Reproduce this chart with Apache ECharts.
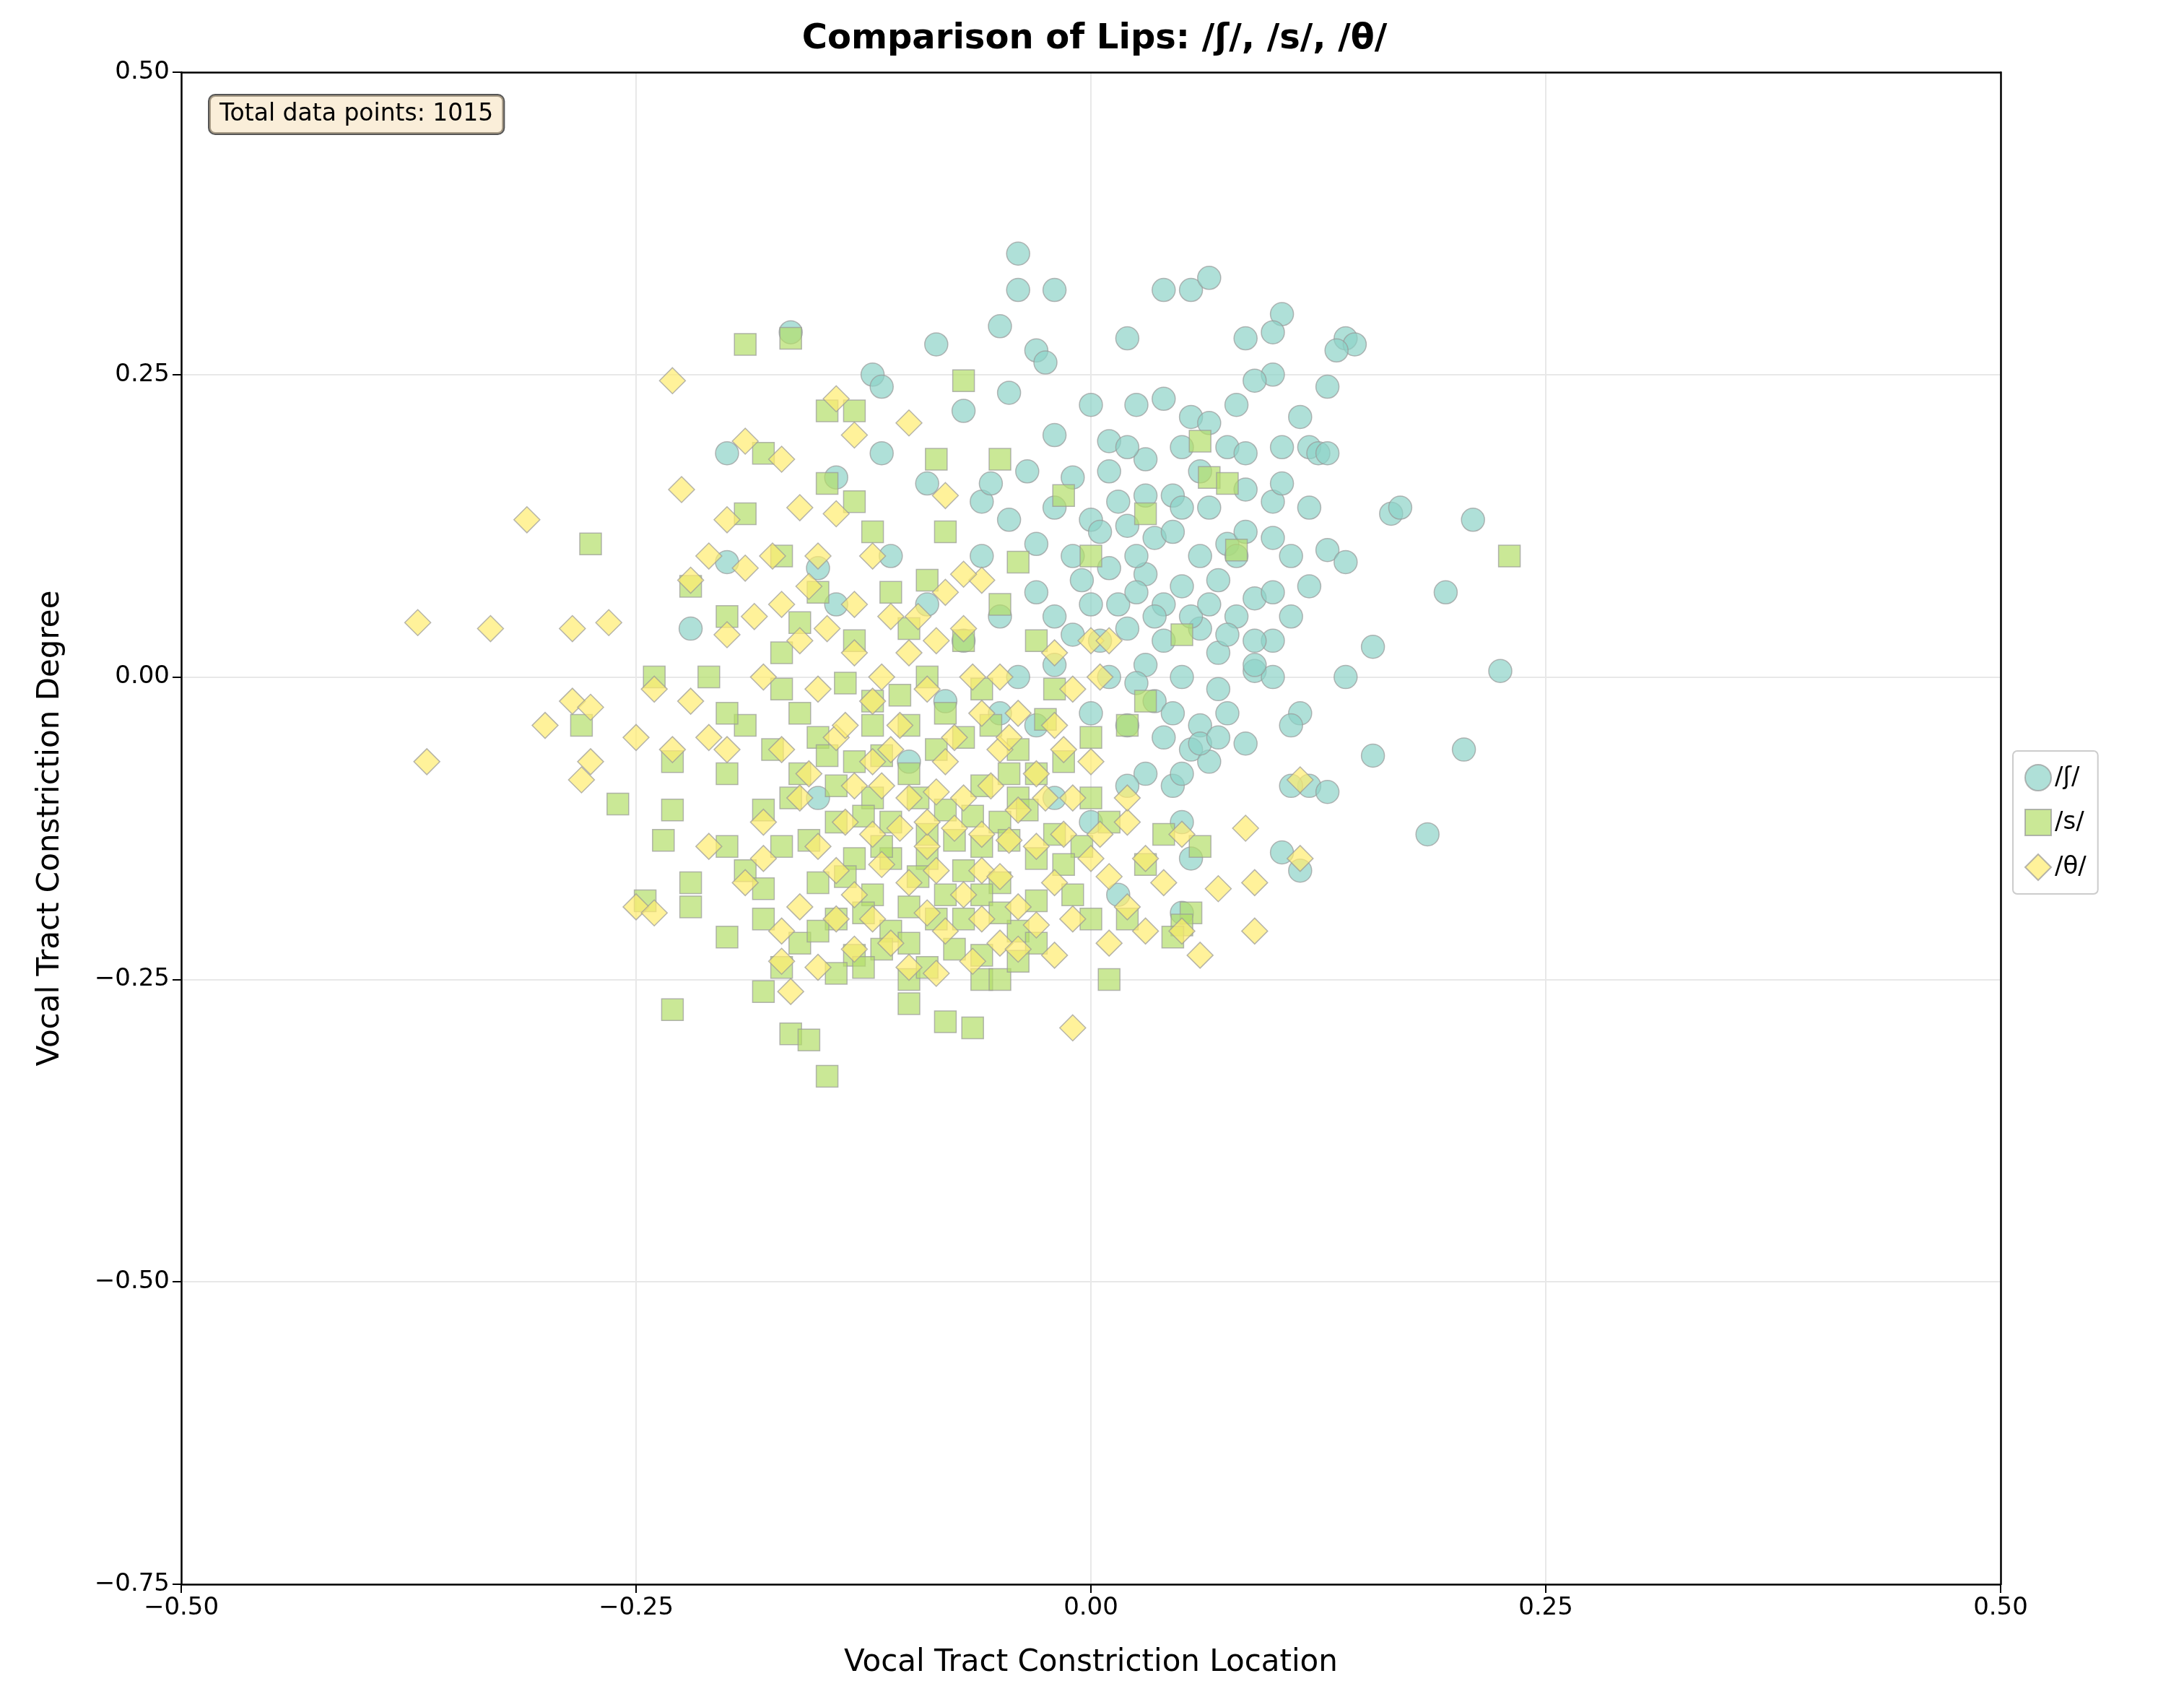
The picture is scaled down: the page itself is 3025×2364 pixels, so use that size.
<!DOCTYPE html>
<html>
<head>
<meta charset="utf-8">
<script src="https://cdn.jsdelivr.net/npm/echarts@6/dist/echarts.min.js"></script>
<style>html,body{margin:0;padding:0;background:#fff}#chart{width:3025px;height:2364px}</style>
</head>
<body>
<div id="chart"></div>
<script>
// estimated values: [location, degree]
const shData = [[-0.04,0.35],[-0.03,0.27],[-0.02,0.32],[-0.04,0.32],[0.04,0.32],[0.055,0.32],[0.065,0.33],[0.105,0.3],[0.14,0.28],[0.145,0.275],[0.1,0.285],[0.085,0.28],[-0.165,0.285],[-0.085,0.275],[-0.05,0.29],[0.02,0.28],[-0.12,0.25],[-0.115,0.24],[-0.045,0.235],[-0.025,0.26],[0.1,0.25],[0.09,0.245],[0.13,0.24],[0.135,0.27],[-0.07,0.22],[0.0,0.225],[0.025,0.225],[0.04,0.23],[0.08,0.225],[0.055,0.215],[0.065,0.21],[0.115,0.215],[-0.2,0.185],[-0.115,0.185],[-0.02,0.2],[0.01,0.195],[0.03,0.18],[0.05,0.19],[0.075,0.19],[0.085,0.185],[0.105,0.19],[0.12,0.19],[0.125,0.185],[0.13,0.185],[-0.14,0.165],[-0.09,0.16],[-0.035,0.17],[-0.01,0.165],[0.01,0.17],[0.045,0.15],[0.065,0.14],[0.085,0.155],[0.1,0.145],[0.105,0.16],[0.12,0.14],[0.165,0.135],[0.17,0.14],[-0.06,0.145],[-0.02,0.14],[0.0,0.13],[0.02,0.125],[0.035,0.115],[0.075,0.11],[0.08,0.1],[0.1,0.115],[0.11,0.1],[0.13,0.105],[0.14,0.095],[0.21,0.13],[-0.2,0.095],[-0.15,0.09],[-0.11,0.1],[-0.06,0.1],[-0.03,0.11],[-0.01,0.1],[0.01,0.09],[0.03,0.085],[0.05,0.075],[0.07,0.08],[0.09,0.065],[0.1,0.07],[0.12,0.075],[0.195,0.07],[-0.22,0.04],[-0.14,0.06],[-0.09,0.06],[-0.05,0.05],[-0.02,0.05],[0.0,0.06],[0.02,0.04],[0.04,0.03],[0.06,0.04],[0.08,0.05],[0.1,0.03],[0.11,0.05],[0.155,0.025],[0.14,0.0],[0.225,0.005],[-0.04,0.0],[-0.02,0.01],[0.01,0.0],[0.03,0.01],[0.05,0.0],[0.07,-0.01],[0.09,0.005],[0.1,0.0],[0.115,-0.03],[-0.08,-0.02],[-0.05,-0.03],[0.0,-0.03],[0.02,-0.04],[0.04,-0.05],[0.06,-0.04],[0.075,-0.03],[0.085,-0.055],[0.11,-0.04],[0.055,-0.06],[0.065,-0.07],[0.03,-0.08],[0.045,-0.09],[0.05,-0.12],[0.155,-0.065],[0.205,-0.06],[0.12,-0.09],[0.13,-0.095],[0.11,-0.09],[0.185,-0.13],[0.105,-0.145],[0.115,-0.16],[-0.02,-0.1],[0.0,-0.12],[0.02,-0.09],[0.055,-0.15],[-0.1,-0.07],[-0.15,-0.1],[0.015,-0.18],[0.05,-0.195],[-0.03,0.07],[0.015,0.06],[0.06,0.1],[-0.07,0.03],[0.035,-0.02],[0.07,0.02],[0.015,0.145],[0.03,0.15],[0.045,0.12],[0.005,0.12],[-0.005,0.08],[0.025,0.1],[0.04,0.06],[0.055,0.05],[0.065,0.06],[0.075,0.035],[0.045,-0.03],[0.06,-0.055],[0.07,-0.05],[0.085,0.12],[0.09,0.01],[0.005,0.03],[-0.01,0.035],[0.025,-0.005],[0.05,0.14],[0.035,0.05],[-0.045,0.13],[-0.055,0.16],[0.02,0.19],[0.09,0.03],[0.05,-0.08],[-0.03,-0.04],[0.025,0.07],[0.06,0.17]];
const sData = [[-0.19,0.275],[-0.165,0.28],[-0.07,0.245],[-0.145,0.22],[-0.13,0.22],[-0.18,0.185],[-0.085,0.18],[-0.05,0.18],[0.06,0.195],[-0.145,0.16],[0.065,0.165],[0.075,0.16],[-0.015,0.15],[0.03,0.135],[-0.19,0.135],[-0.12,0.12],[-0.08,0.12],[-0.275,0.11],[0.08,0.105],[0.23,0.1],[0.0,0.1],[-0.04,0.095],[-0.22,0.075],[-0.15,0.07],[-0.09,0.08],[-0.11,0.07],[-0.2,0.05],[-0.17,0.02],[-0.13,0.03],[-0.07,0.03],[0.05,0.035],[-0.24,0.0],[-0.21,0.0],[-0.17,-0.01],[-0.12,-0.02],[-0.09,0.0],[-0.06,-0.01],[-0.02,-0.01],[0.03,-0.02],[-0.28,-0.04],[-0.19,-0.04],[-0.15,-0.05],[-0.1,-0.04],[-0.07,-0.05],[-0.04,-0.06],[0.0,-0.05],[0.02,-0.04],[-0.23,-0.07],[-0.2,-0.08],[-0.16,-0.08],[-0.13,-0.07],[-0.1,-0.08],[-0.06,-0.09],[-0.03,-0.08],[0.0,-0.1],[-0.26,-0.105],[-0.23,-0.11],[-0.18,-0.11],[-0.14,-0.12],[-0.11,-0.12],[-0.08,-0.11],[-0.05,-0.12],[-0.02,-0.13],[0.01,-0.12],[0.04,-0.13],[-0.235,-0.135],[-0.2,-0.14],[-0.17,-0.14],[-0.13,-0.15],[-0.09,-0.15],[-0.06,-0.14],[-0.03,-0.15],[0.03,-0.155],[0.06,-0.14],[-0.22,-0.17],[-0.19,-0.16],[-0.15,-0.17],[-0.12,-0.18],[-0.08,-0.18],[-0.05,-0.17],[-0.01,-0.18],[0.02,-0.2],[-0.245,-0.185],[-0.22,-0.19],[-0.18,-0.2],[-0.14,-0.2],[-0.11,-0.21],[-0.07,-0.2],[-0.04,-0.21],[0.0,-0.2],[0.055,-0.195],[0.05,-0.205],[-0.2,-0.215],[-0.16,-0.22],[-0.13,-0.23],[-0.1,-0.22],[-0.06,-0.23],[-0.03,-0.22],[0.045,-0.215],[-0.17,-0.24],[-0.14,-0.245],[-0.1,-0.25],[-0.06,-0.25],[-0.05,-0.25],[0.01,-0.25],[-0.23,-0.275],[-0.18,-0.26],[-0.1,-0.27],[-0.08,-0.285],[-0.065,-0.29],[-0.165,-0.295],[-0.155,-0.3],[-0.145,-0.33],[-0.12,-0.1],[-0.09,-0.13],[-0.07,-0.16],[-0.11,-0.15],[-0.04,-0.1],[-0.14,-0.09],[-0.1,-0.19],[-0.12,-0.04],[-0.16,-0.03],[-0.135,-0.005],[-0.105,-0.015],[-0.08,-0.03],[-0.055,-0.04],[-0.025,-0.035],[-0.175,-0.06],[-0.145,-0.065],[-0.115,-0.065],[-0.085,-0.06],[-0.045,-0.08],[-0.015,-0.07],[-0.165,-0.1],[-0.125,-0.115],[-0.095,-0.1],[-0.065,-0.115],[-0.035,-0.11],[-0.005,-0.14],[-0.155,-0.135],[-0.115,-0.14],[-0.075,-0.135],[-0.045,-0.135],[-0.015,-0.155],[-0.135,-0.165],[-0.095,-0.165],[-0.06,-0.18],[-0.03,-0.185],[-0.125,-0.195],[-0.085,-0.2],[-0.05,-0.195],[-0.15,-0.21],[-0.115,-0.225],[-0.075,-0.225],[-0.04,-0.235],[-0.125,-0.24],[-0.09,-0.24],[-0.17,0.1],[-0.13,0.145],[-0.16,0.045],[-0.1,0.04],[-0.05,0.06],[-0.03,0.03],[-0.2,-0.03],[-0.18,-0.175]];
const thData = [[-0.23,0.245],[-0.14,0.23],[-0.1,0.21],[-0.19,0.195],[-0.17,0.18],[-0.13,0.2],[-0.225,0.155],[-0.08,0.15],[-0.31,0.13],[-0.2,0.13],[-0.16,0.14],[-0.12,0.1],[-0.15,0.1],[-0.19,0.09],[-0.22,0.08],[-0.17,0.06],[-0.11,0.05],[-0.08,0.07],[-0.06,0.08],[-0.37,0.045],[-0.33,0.04],[-0.285,0.04],[-0.265,0.045],[-0.2,0.035],[-0.16,0.03],[-0.13,0.02],[-0.1,0.02],[-0.07,0.04],[-0.05,0.0],[0.0,0.03],[0.01,0.03],[-0.24,-0.01],[-0.18,0.0],[-0.15,-0.01],[-0.12,-0.02],[-0.09,-0.01],[-0.06,-0.03],[-0.02,-0.04],[-0.01,-0.01],[-0.285,-0.02],[-0.275,-0.025],[-0.22,-0.02],[-0.3,-0.04],[-0.25,-0.05],[-0.21,-0.05],[-0.17,-0.06],[-0.14,-0.05],[-0.11,-0.06],[-0.08,-0.07],[-0.05,-0.06],[-0.03,-0.08],[0.0,-0.07],[-0.365,-0.07],[-0.275,-0.07],[-0.28,-0.085],[-0.23,-0.06],[-0.2,-0.06],[-0.16,-0.1],[-0.13,-0.09],[-0.1,-0.1],[-0.07,-0.1],[-0.04,-0.11],[-0.01,-0.1],[0.02,-0.12],[0.05,-0.13],[0.115,-0.085],[-0.21,-0.14],[-0.18,-0.15],[-0.15,-0.14],[-0.12,-0.13],[-0.09,-0.14],[-0.06,-0.13],[-0.03,-0.14],[0.0,-0.15],[0.03,-0.15],[0.04,-0.17],[0.085,-0.125],[0.115,-0.15],[-0.19,-0.17],[-0.16,-0.19],[-0.13,-0.18],[-0.1,-0.17],[-0.07,-0.18],[-0.04,-0.19],[-0.01,-0.2],[0.02,-0.19],[0.05,-0.21],[0.07,-0.175],[0.09,-0.17],[-0.25,-0.19],[-0.24,-0.195],[-0.17,-0.21],[-0.14,-0.2],[-0.11,-0.22],[-0.08,-0.21],[-0.05,-0.22],[-0.02,-0.23],[0.01,-0.22],[0.06,-0.23],[0.09,-0.21],[-0.17,-0.235],[-0.165,-0.26],[-0.15,-0.24],[-0.1,-0.24],[-0.085,-0.245],[-0.01,-0.29],[-0.12,-0.07],[-0.09,-0.12],[-0.14,-0.16],[-0.06,-0.16],[-0.13,0.06],[-0.04,-0.03],[-0.18,-0.12],[-0.145,0.04],[-0.115,0.0],[-0.085,0.03],[-0.065,0.0],[-0.135,-0.04],[-0.105,-0.04],[-0.075,-0.05],[-0.045,-0.05],[-0.015,-0.06],[-0.155,-0.08],[-0.115,-0.09],[-0.085,-0.095],[-0.055,-0.09],[-0.025,-0.1],[-0.135,-0.12],[-0.105,-0.125],[-0.075,-0.125],[-0.045,-0.135],[-0.015,-0.13],[-0.115,-0.155],[-0.085,-0.16],[-0.05,-0.165],[-0.02,-0.17],[0.01,-0.165],[-0.12,-0.2],[-0.09,-0.195],[-0.06,-0.2],[-0.03,-0.205],[-0.13,-0.225],[-0.065,-0.235],[-0.04,-0.225],[0.03,-0.21],[0.005,-0.13],[0.02,-0.1],[-0.175,0.1],[-0.155,0.075],[-0.185,0.05],[-0.21,0.1],[-0.14,0.135],[-0.095,0.05],[-0.07,0.085],[0.005,0.0],[-0.02,0.02]];
const seriesNames = ['/ʃ/', '/s/', '/θ/'];
const seriesColors = ['#8dd3c7', '#b3de69', '#ffed6f'];
const seriesSymbols = ['circle', 'rect', 'diamond'];
const seriesSizes = [32, 30, 36];
const totalPoints = 1015;

const fmt = v => (v < 0 ? '\u2212' : '') + Math.abs(v).toFixed(2);
const chart = echarts.init(document.getElementById('chart'));
const font = 'DejaVu Sans';
const frameAxis = { show: true, axisLine: { show: true, onZero: false, lineStyle: { color: '#000', width: 2.5 } }, axisTick: { show: false }, axisLabel: { show: false }, splitLine: { show: false } };

chart.setOption({
  animation: false,
  textStyle: { fontFamily: font },
  title: {
    text: 'Comparison of Lips: /ʃ/, /s/, /θ/',
    left: 1511, top: 26, textAlign: 'center',
    textStyle: { fontSize: 48, fontWeight: 'bold', color: '#000', fontFamily: font }
  },
  legend: {
    orient: 'vertical', left: 2788, top: 1040,
    itemWidth: 36, itemHeight: 36, itemGap: 24,
    padding: [18, 16], borderColor: '#ccc', borderWidth: 2, borderRadius: 6,
    textStyle: { fontSize: 34, color: '#000' },
    data: seriesNames.map((n, i) => ({ name: n, icon: seriesSymbols[i] }))
  },
  grid: { left: 251, right: 254, top: 100, bottom: 170 },
  xAxis: [{
    type: 'value', min: -0.5, max: 0.5, interval: 0.25,
    name: 'Vocal Tract Constriction Location', nameLocation: 'middle', nameGap: 88,
    nameTextStyle: { fontSize: 42, color: '#000' },
    axisLine: { show: true, onZero: false, lineStyle: { color: '#000', width: 2.5 } },
    axisTick: { show: true, length: 12, lineStyle: { color: '#000', width: 2 } },
    axisLabel: { fontSize: 34, color: '#000', margin: 16, formatter: fmt },
    splitLine: { lineStyle: { color: '#e8e8e8', width: 2 } }
  }, Object.assign({ type: 'value', position: 'top', min: -0.5, max: 0.5 }, frameAxis)],
  yAxis: [{
    type: 'value', min: -0.75, max: 0.5, interval: 0.25,
    name: 'Vocal Tract Constriction Degree', nameLocation: 'middle', nameGap: 160,
    nameTextStyle: { fontSize: 42, color: '#000' },
    axisLine: { show: true, onZero: false, lineStyle: { color: '#000', width: 2.5 } },
    axisTick: { show: true, length: 12, lineStyle: { color: '#000', width: 2 } },
    axisLabel: { fontSize: 34, color: '#000', margin: 16, formatter: fmt },
    splitLine: { lineStyle: { color: '#e8e8e8', width: 2 } }
  }, Object.assign({ type: 'value', position: 'right', min: -0.75, max: 0.5 }, frameAxis)],
  graphic: [{
    type: 'text', left: 288, top: 130,
    style: {
      text: 'Total data points: ' + totalPoints,
      font: '33px "DejaVu Sans"', fill: '#000',
      backgroundColor: 'rgba(245,222,179,0.5)', borderColor: '#555', borderWidth: 2,
      borderRadius: 8, padding: [10, 14]
    }
  }],
  series: [shData, sData, thData].map((d, i) => ({
    type: 'scatter', name: seriesNames[i], data: d,
    symbol: seriesSymbols[i], symbolSize: seriesSizes[i],
    itemStyle: { color: seriesColors[i], opacity: 0.7, borderColor: '#999', borderWidth: 1.5 }
  }))
});
</script>
</body>
</html>
